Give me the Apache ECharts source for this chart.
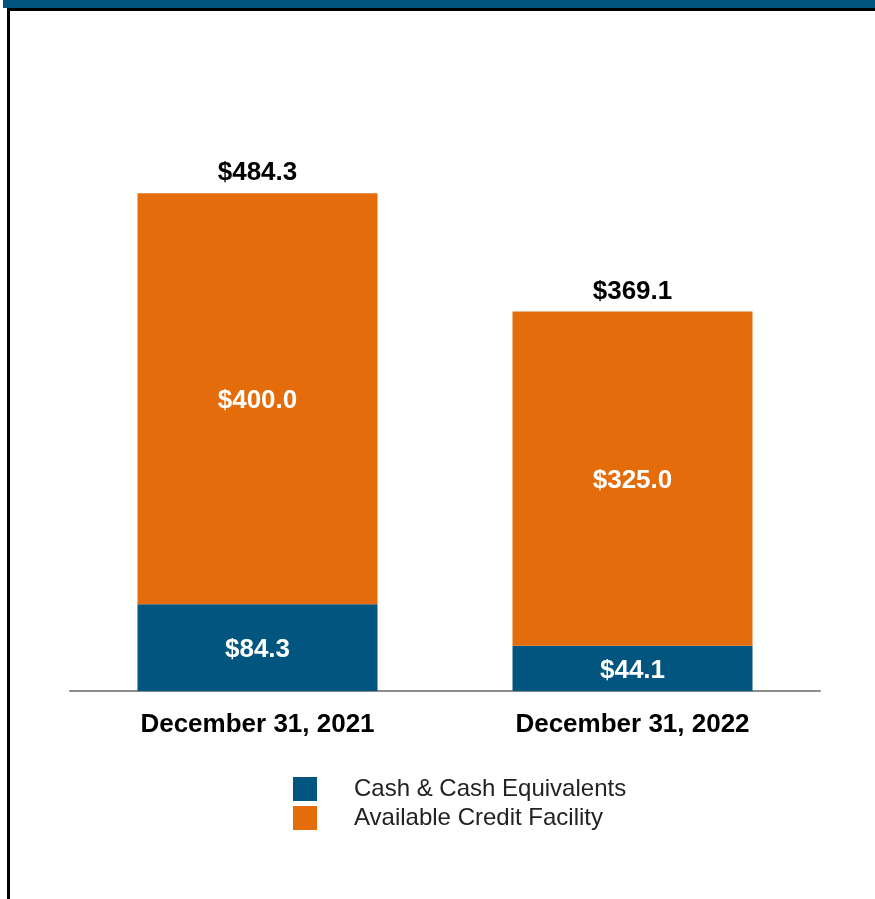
<!DOCTYPE html>
<html>
<head>
<meta charset="utf-8">
<script src="https://cdn.jsdelivr.net/npm/echarts@6/dist/echarts.min.js"></script>
<style>
  html, body { margin: 0; padding: 0; background: #fff; }
  #main { width: 875px; height: 899px; }
</style>
</head>
<body>
<div id="main"></div>
<script>
const categories = ["December 31, 2021", "December 31, 2022"];
const cash = [84.3, 44.1];
const credit = [400.0, 325.0];
const totals = [484.3, 369.1];
const seriesNames = ["Cash & Cash Equivalents", "Available Credit Facility"];

const blue = "#02557f";
const orange = "#e46c0a";
const font = "Liberation Sans, Arial, sans-serif";

const chart = echarts.init(document.getElementById("main"));

const money = v => "$" + v.toFixed(1);

const option = {
  animation: false,
  backgroundColor: "#fff",
  textStyle: { fontFamily: font },
  graphic: [
    // top band and frame lines
    { type: "rect", shape: { x: 3, y: 0, width: 872, height: 8 }, style: { fill: "#02557f" } },
    { type: "rect", shape: { x: 7, y: 8, width: 868, height: 3 }, style: { fill: "#000" } },
    { type: "rect", shape: { x: 7, y: 8, width: 3, height: 891 }, style: { fill: "#000" } }
  ],
  grid: { left: 70, right: 55, top: 177, bottom: 208 },
  legend: {
    orient: "vertical",
    left: 293,
    top: 777,
    padding: 0,
    itemWidth: 24,
    itemHeight: 24,
    itemGap: 5,
    icon: "rect",
    data: seriesNames,
    textStyle: { fontSize: 24, color: "#222", fontFamily: font, padding: [4, 0, 0, 32] }
  },
  xAxis: {
    type: "category",
    data: categories,
    axisLine: { lineStyle: { color: "#8c8c8c", width: 2 } },
    axisTick: { show: false },
    axisLabel: { fontSize: 26, fontWeight: "bold", color: "#000", margin: 21, fontFamily: font }
  },
  yAxis: {
    type: "value",
    min: 0,
    max: 500,
    show: false,
    splitLine: { show: false }
  },
  series: [
    {
      name: seriesNames[0],
      type: "bar",
      stack: "t",
      data: cash,
      barWidth: "64%",
      itemStyle: { color: blue },
      label: { show: true, position: "inside", offset: [0, 2], formatter: p => money(p.value), color: "#fff", fontSize: 26, fontWeight: "bold", fontFamily: font }
    },
    {
      name: seriesNames[1],
      type: "bar",
      stack: "t",
      data: credit,
      itemStyle: { color: orange },
      label: { show: true, position: "inside", offset: [0, 2], formatter: p => money(p.value), color: "#fff", fontSize: 26, fontWeight: "bold", fontFamily: font }
    },
    {
      name: "total",
      type: "bar",
      stack: "t",
      data: totals.map(() => 0),
      itemStyle: { color: "transparent" },
      label: {
        show: true, position: "top", distance: 7,
        formatter: p => money(totals[p.dataIndex]),
        color: "#000", fontSize: 26, fontWeight: "bold", fontFamily: font
      }
    }
  ]
};

chart.setOption(option);
</script>
</body>
</html>
